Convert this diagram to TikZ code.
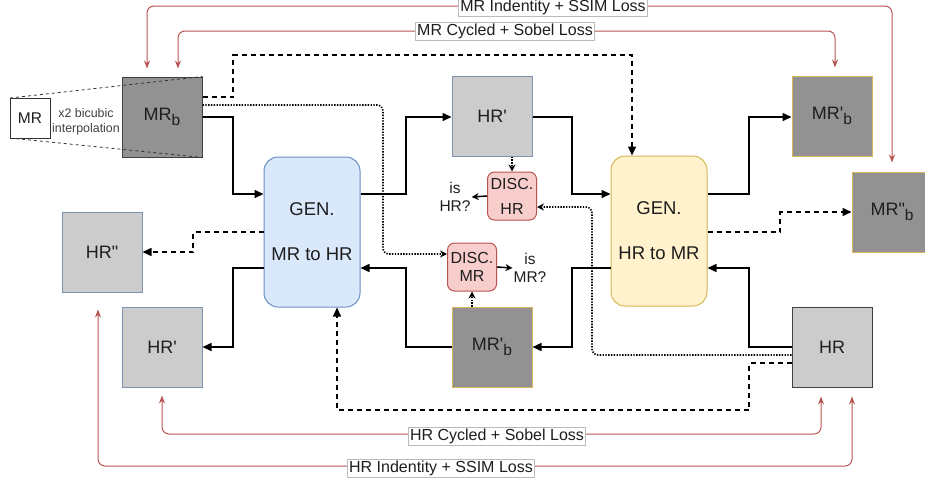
\documentclass[tikz,border=0pt]{standalone}
\usepackage{fontspec}
\setmainfont{Liberation Sans}
\usetikzlibrary{arrows.meta,calc}
\definecolor{lgray}{HTML}{CCCCCC}
\definecolor{dgray}{HTML}{929292}
\definecolor{bluegray}{HTML}{7E93B3}
\definecolor{goldb}{HTML}{D6B656}
\definecolor{genbf}{HTML}{DAE8FC}
\definecolor{genbd}{HTML}{6C8EBF}
\definecolor{genyf}{HTML}{FFF2CC}
\definecolor{discf}{HTML}{F8CECC}
\definecolor{discb}{HTML}{B85450}
\definecolor{lossred}{HTML}{B85450}
\definecolor{labgray}{HTML}{BBBBBB}
\definecolor{txt}{HTML}{1E1E1E}
\newcommand{\fsz}[2]{\fontsize{#1}{#2}\selectfont}
\newcommand{\subb}{\raisebox{-4.5pt}{\fsz{15.5}{15.5}b}}
\tikzset{
  box/.style={draw, rectangle, minimum width=80pt, minimum height=80pt, inner sep=0pt, line width=1pt, text=txt, font=\fsz{18}{21}},
  graylt/.style={box, fill=lgray, draw=bluegray},
  graydk/.style={box, fill=dgray, draw=goldb},
  gen/.style={draw, line width=1pt, rounded corners=14pt, minimum width=96pt, minimum height=150pt, inner sep=0pt, align=center, text=txt, font=\fsz{18.5}{21}},
  disc/.style={draw=discb, fill=discf, line width=1pt, rounded corners=7pt, minimum width=49pt, minimum height=48pt, inner sep=0pt, align=center, text=txt, font=\fsz{16}{18}},
  conn/.style={line width=1.5pt, -{Triangle[length=9pt,width=8pt]}},
  dashconn/.style={conn, dash pattern=on 5pt off 4pt},
  dotconn/.style={line width=1.6pt, dash pattern=on 1.4pt off 1.4pt, rounded corners=6pt, -{Stealth[length=7pt,width=7pt]}},
  smallarr/.style={line width=1.5pt, -{Stealth[length=7pt,width=7pt]}},
  loss/.style={draw=lossred, line width=1pt, rounded corners=7pt, {Stealth[length=8pt,width=6pt]}-{Stealth[length=8pt,width=6pt]}},
  lab/.style={fill=white, draw=labgray, line width=0.7pt, inner xsep=1.5pt, inner ysep=1.5pt, text=txt, font=\fsz{16}{18}},
  plain/.style={align=center, text=txt, inner sep=1pt},
}
\begin{document}
\begin{tikzpicture}[x=1pt,y=-1pt]
\useasboundingbox (0,0) rectangle (925,485);
\clip (0,0) rectangle (925,485);

% boxes
\node[box, fill=dgray, draw=black!75] (mrb) at (162,117) {MR\subb};
\node[graylt] (hrp1) at (492,116) {HR\textquotesingle};
\node[graydk] (mrp1) at (492,347) {MR\textquotesingle\subb};
\node[graydk] (mrp2) at (832,116) {MR\textquotesingle\subb};
\node[graydk] (mrpp) at (892,212) {MR\textquotedbl\subb};
\node[graylt] (hrpp) at (102,252) {HR\textquotedbl};
\node[graylt] (hrp2) at (162,347) {HR\textquotesingle};
\node[box, fill=lgray, draw=black!75] (hr) at (832,347) {HR};
\node[gen, fill=genbf, draw=genbd] (genmr) at (312,232) {GEN.\\[24pt]MR to HR};
\node[gen, fill=genyf, draw=goldb] (genhr) at (659,231) {GEN.\\[24pt]HR to MR};
\node[disc] (dischr) at (512,196) {DISC.\\[7pt]HR};
\node[disc] (discmr) at (472,267) {DISC.\\MR};
\node[plain, font=\fsz{15.5}{18}] (ishr) at (455,197) {is\\HR?};
\node[plain, font=\fsz{15.5}{18}] (ismr) at (530,268) {is\\MR?};

% bicubic zoom lines
\draw[line width=0.8pt, dash pattern=on 3pt off 3pt, black!80] (10,98) -- (mrb.north east);
\draw[line width=0.8pt, dash pattern=on 3pt off 3pt, black!80] (10,138) -- (mrb.south east);
\node[draw=black!80, fill=white, line width=1pt, minimum width=40pt, minimum height=40pt, inner sep=0pt, text=txt, font=\fsz{15.5}{18}] (mr) at (30,118) {MR};
\node[plain, font=\fsz{12.4}{15}, text=black!75] (bic) at (86,122) {x2 bicubic\\interpolation};

% solid connectors
\draw[conn] (mrb.east |- 0,117) -- (233,117) -- (233,194) -- (genmr.west |- 0,194);
\draw[conn] (genmr.east |- 0,194) -- (406,194) -- (406,117) -- (hrp1.west |- 0,117);
\draw[conn] (hrp1.east |- 0,117) -- (572,117) -- (572,194) -- (genhr.west |- 0,194);
\draw[conn] (genhr.east |- 0,194) -- (749,194) -- (749,117) -- (mrp2.west |- 0,117);
\draw[conn] (hr.west |- 0,347) -- (749,347) -- (749,268) -- (genhr.east |- 0,268);
\draw[conn] (genhr.west |- 0,268) -- (572,268) -- (572,347) -- (mrp1.east |- 0,347);
\draw[conn] (mrp1.west |- 0,347) -- (406,347) -- (406,268) -- (genmr.east |- 0,268);
\draw[conn] (genmr.west |- 0,268) -- (233,268) -- (233,347) -- (hrp2.east |- 0,347);

% dashed connectors
\draw[dashconn] (genhr.east |- 0,232) -- (780,232) -- (780,212) -- (mrpp.west |- 0,212);
\draw[dashconn] (genmr.west |- 0,232) -- (193,232) -- (193,252) -- (hrpp.east |- 0,252);
\draw[dashconn] (mrb.east |- 0,97) -- (233,97) -- (233,55) -- (632,55) -- (genhr.north -| 632,0);
\draw[dashconn] (hr.west |- 0,363) -- (749,363) -- (749,410) -- (337,410) -- (genmr.south -| 337,0);

% dotted connectors
\draw[dotconn] (mrb.east |- 0,105) -- (383,105) -- (383,254) -- (discmr.west |- 0,254);
\draw[dotconn] (hr.west |- 0,355) -- (592,355) -- (592,207) -- (dischr.east |- 0,207);
\draw[dotconn] (hrp1.south -| 512,0) -- (dischr.north -| 512,0);
\draw[dotconn] (mrp1.north -| 472,0) -- (discmr.south -| 472,0);

% discriminator outputs
\draw[smallarr] (dischr.west) -- (ishr.east);
\draw[smallarr] (discmr.east) -- (ismr.west);

% loss connectors
\draw[loss, shorten <=8pt, shorten >=9pt] (mrb.north -| 147,0) -- (147,6) -- (892,6) -- (mrpp.north -| 892,0);
\draw[loss, shorten <=8pt, shorten >=8pt] (mrb.north -| 178,0) -- (178,31) -- (835,31) -- (mrp2.north -| 835,0);
\draw[loss, shorten <=8pt, shorten >=9pt] (hrp2.south -| 162,0) -- (162,434) -- (821,434) -- (hr.south -| 821,0);
\draw[loss, shorten <=17pt, shorten >=9pt] (hrpp.south -| 98,0) -- (98,466) -- (852,466) -- (hr.south -| 852,0);

\node[lab] (l1) at (553,7) {MR Indentity + SSIM Loss};
\node[lab] (l2) at (505,31) {MR Cycled + Sobel Loss};
\node[lab] (l3) at (497,436) {HR Cycled + Sobel Loss};
\node[lab] (l4) at (441,468) {HR Indentity + SSIM Loss};
\end{tikzpicture}
\end{document}
